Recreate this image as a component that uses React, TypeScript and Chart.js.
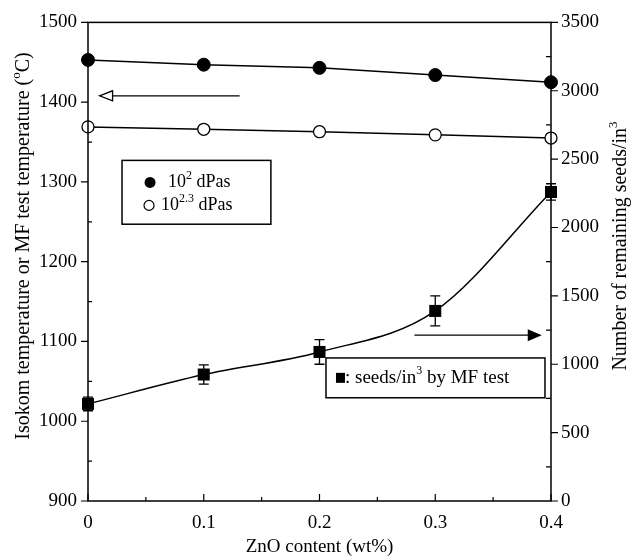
import React, { useEffect, useRef } from "react";
import { Chart, registerables } from "chart.js";

Chart.register(...registerables);

// ---- data ----
const znoContent = [0, 0.1, 0.2, 0.3, 0.4];
const isokom102 = [1453, 1447, 1443, 1434, 1425];
const isokom1023 = [1369, 1366, 1363, 1359, 1355];
const seedsPerIn3 = [710, 925, 1090, 1390, 2260];
const seedsError = [50, 70, 90, 110, 60];

const xTickValues = [0, 0.1, 0.2, 0.3, 0.4];
const xTickLabels = ["0", "0.1", "0.2", "0.3", "0.4"];
const xMinorValues = [0.05, 0.15, 0.25, 0.35];
const leftTickValues = [900, 1000, 1100, 1200, 1300, 1400, 1500];
const leftMinorValues = [950, 1050, 1150, 1250, 1350, 1450];
const rightTickValues = [0, 500, 1000, 1500, 2000, 2500, 3000, 3500];
const rightMinorValues = [250, 750, 1250, 1750, 2250, 2750, 3250];

const FONT = "'Liberation Serif', 'Times New Roman', serif";

type Part = { t: string; sup?: boolean };

function drawRich(ctx: CanvasRenderingContext2D, parts: Part[], x: number, y: number, size: number, align: "left" | "center") {
  let total = 0;
  const widths: number[] = [];
  for (const p of parts) {
    ctx.font = `${p.sup ? Math.round(size * 0.65) : size}px ${FONT}`;
    const w = ctx.measureText(p.t).width;
    widths.push(w);
    total += w;
  }
  let cx = align === "center" ? x - total / 2 : x;
  ctx.textBaseline = "middle";
  ctx.textAlign = "left";
  parts.forEach((p, i) => {
    ctx.font = `${p.sup ? Math.round(size * 0.65) : size}px ${FONT}`;
    ctx.fillText(p.t, cx, p.sup ? y - size * 0.38 : y);
    cx += widths[i];
  });
}

const overlay = {
  id: "overlay",
  beforeDatasetsDraw(chart: any) {
    const ctx = chart.ctx as CanvasRenderingContext2D;
    const xs = chart.scales.x;
    const ys = chart.scales.y2;
    ctx.save();
    ctx.strokeStyle = "#000";
    ctx.lineWidth = 1.3;
    znoContent.forEach((z, i) => {
      const px = xs.getPixelForValue(z);
      const top = ys.getPixelForValue(seedsPerIn3[i] + seedsError[i]);
      const bot = ys.getPixelForValue(seedsPerIn3[i] - seedsError[i]);
      ctx.beginPath();
      ctx.moveTo(px, top);
      ctx.lineTo(px, bot);
      ctx.moveTo(px - 5, top);
      ctx.lineTo(px + 5, top);
      ctx.moveTo(px - 5, bot);
      ctx.lineTo(px + 5, bot);
      ctx.stroke();
    });
    ctx.restore();
  },
  afterDatasetsDraw(chart: any) {
    const ctx = chart.ctx as CanvasRenderingContext2D;
    const { left, right, top, bottom } = chart.chartArea;
    const xs = chart.scales.x;
    const yl = chart.scales.y;
    const yr = chart.scales.y2;
    ctx.save();
    ctx.strokeStyle = "#000";
    ctx.fillStyle = "#000";
    ctx.lineWidth = 1.5;
    // frame
    ctx.strokeRect(left, top, right - left, bottom - top);
    ctx.lineWidth = 1.2;
    ctx.beginPath();
    // bottom ticks (inward)
    xTickValues.forEach((v) => {
      const p = xs.getPixelForValue(v);
      ctx.moveTo(p, bottom);
      ctx.lineTo(p, bottom - 7);
    });
    xMinorValues.forEach((v) => {
      const p = xs.getPixelForValue(v);
      ctx.moveTo(p, bottom);
      ctx.lineTo(p, bottom - 4);
    });
    // left ticks: major outward, minor inward
    leftTickValues.forEach((v) => {
      const p = yl.getPixelForValue(v);
      ctx.moveTo(left - 7, p);
      ctx.lineTo(left, p);
    });
    leftMinorValues.forEach((v) => {
      const p = yl.getPixelForValue(v);
      ctx.moveTo(left, p);
      ctx.lineTo(left + 4, p);
    });
    // right ticks: major outward, minor inward
    rightTickValues.forEach((v) => {
      const p = yr.getPixelForValue(v);
      ctx.moveTo(right, p);
      ctx.lineTo(right + 7, p);
    });
    rightMinorValues.forEach((v) => {
      const p = yr.getPixelForValue(v);
      ctx.moveTo(right, p);
      ctx.lineTo(right - 5, p);
    });
    ctx.stroke();

    // left arrow (open head), pointing to left axis
    ctx.lineWidth = 1.3;
    const la = yl.getPixelForValue(1408);
    const laFrom = xs.getPixelForValue(0.131);
    const laTip = xs.getPixelForValue(0.01);
    ctx.beginPath();
    ctx.moveTo(laFrom, la);
    ctx.lineTo(laTip + 13, la);
    ctx.stroke();
    ctx.beginPath();
    ctx.moveTo(laTip, la);
    ctx.lineTo(laTip + 13, la - 5);
    ctx.lineTo(laTip + 13, la + 5);
    ctx.closePath();
    ctx.stroke();

    // right arrow (filled head), pointing to right axis
    const ra = yr.getPixelForValue(1213);
    const raFrom = xs.getPixelForValue(0.282);
    const raTip = xs.getPixelForValue(0.392);
    ctx.beginPath();
    ctx.moveTo(raFrom, ra);
    ctx.lineTo(raTip - 13, ra);
    ctx.stroke();
    ctx.beginPath();
    ctx.moveTo(raTip, ra);
    ctx.lineTo(raTip - 14, ra - 6);
    ctx.lineTo(raTip - 14, ra + 6);
    ctx.closePath();
    ctx.fill();

    // legend box 1
    const b1l = xs.getPixelForValue(0.0294);
    const b1r = xs.getPixelForValue(0.158);
    const b1t = yl.getPixelForValue(1327);
    const b1b = yl.getPixelForValue(1247);
    ctx.lineWidth = 1.5;
    ctx.strokeRect(b1l, b1t, b1r - b1l, b1b - b1t);
    const r1 = b1t + 22;
    const r2 = b1t + 45;
    ctx.beginPath();
    ctx.arc(b1l + 28, r1, 5.5, 0, Math.PI * 2);
    ctx.fill();
    ctx.beginPath();
    ctx.lineWidth = 1.2;
    ctx.arc(b1l + 27, r2, 5, 0, Math.PI * 2);
    ctx.stroke();
    drawRich(ctx, [{ t: "10" }, { t: "2", sup: true }, { t: " dPas" }], b1l + 46, r1, 18, "left");
    drawRich(ctx, [{ t: "10" }, { t: "2.3", sup: true }, { t: " dPas" }], b1l + 39, r2, 18, "left");

    // legend box 2
    const b2l = xs.getPixelForValue(0.2056);
    const b2r = xs.getPixelForValue(0.3948);
    const b2t = yr.getPixelForValue(1046);
    const b2b = yr.getPixelForValue(755);
    ctx.lineWidth = 1.5;
    ctx.strokeRect(b2l, b2t, b2r - b2l, b2b - b2t);
    const r3 = (b2t + b2b) / 2;
    ctx.fillRect(b2l + 10, r3 - 5, 9, 10);
    drawRich(ctx, [{ t: ": seeds/in" }, { t: "3", sup: true }, { t: " by MF test" }], b2l + 19, r3, 19, "left");
    ctx.restore();
  },
  afterDraw(chart: any) {
    const ctx = chart.ctx as CanvasRenderingContext2D;
    const { left, right, bottom } = chart.chartArea;
    ctx.save();
    ctx.fillStyle = "#000";
    // x title
    drawRich(ctx, [{ t: "ZnO content (wt%)" }], (left + right) / 2, bottom + 46, 19, "center");
    // left title
    ctx.save();
    ctx.translate(24, 246);
    ctx.rotate(-Math.PI / 2);
    drawRich(ctx, [{ t: "Isokom temperature or MF test temperature (" }, { t: "o", sup: true }, { t: "C)" }], 0, 0, 20, "center");
    ctx.restore();
    // right title
    ctx.save();
    ctx.translate(621, 246);
    ctx.rotate(-Math.PI / 2);
    drawRich(ctx, [{ t: "Number of remaining seeds/in" }, { t: "3", sup: true }], 0, 0, 20, "center");
    ctx.restore();
    ctx.restore();
  },
};

export default function App() {
  const canvasRef = useRef<HTMLCanvasElement | null>(null);

  useEffect(() => {
    document.body.style.margin = "0";
    const canvas = canvasRef.current;
    if (!canvas) return;
    const pts = (ys: number[]) => znoContent.map((x, i) => ({ x, y: ys[i] }));
    const tickFont = { family: FONT, size: 19 };
    const chart = new Chart(canvas, {
      type: "line",
      data: {
        datasets: [
          {
            label: "10^2 dPas",
            data: pts(isokom102),
            yAxisID: "y",
            borderColor: "#000",
            backgroundColor: "#000",
            borderWidth: 1.5,
            pointStyle: "circle",
            pointRadius: 6.5,
            pointBorderWidth: 1,
            pointBackgroundColor: "#000",
            tension: 0,
            clip: false,
          },
          {
            label: "10^2.3 dPas",
            data: pts(isokom1023),
            yAxisID: "y",
            borderColor: "#000",
            backgroundColor: "#fff",
            borderWidth: 1.5,
            pointStyle: "circle",
            pointRadius: 6,
            pointBorderWidth: 1.3,
            pointBackgroundColor: "#fff",
            tension: 0,
            clip: false,
          },
          {
            label: "seeds/in3 by MF test",
            data: pts(seedsPerIn3),
            yAxisID: "y2",
            borderColor: "#000",
            backgroundColor: "#000",
            borderWidth: 1.5,
            pointStyle: "rect",
            pointRadius: 8.5,
            pointBorderWidth: 0,
            pointBackgroundColor: "#000",
            cubicInterpolationMode: "monotone",
            clip: false,
          },
        ] as any,
      },
      options: {
        responsive: false,
        animation: false,
        layout: { padding: { top: 19, left: 0, right: 0, bottom: 0 } },
        plugins: { legend: { display: false }, tooltip: { enabled: false } },
        scales: {
          x: {
            type: "linear",
            min: 0,
            max: 0.4,
            grid: { display: false, drawTicks: false },
            border: { display: false },
            afterBuildTicks: (s: any) => {
              s.ticks = xTickValues.map((v) => ({ value: v }));
            },
            afterFit: (s: any) => {
              s.height = 56;
            },
            ticks: {
              color: "#000",
              font: tickFont,
              padding: 11,
              maxRotation: 0,
              autoSkip: false,
              callback: (_v: any, i: number) => xTickLabels[i],
            },
          },
          y: {
            type: "linear",
            position: "left",
            min: 900,
            max: 1500,
            grid: { display: false, drawTicks: false },
            border: { display: false },
            afterBuildTicks: (s: any) => {
              s.ticks = leftTickValues.map((v) => ({ value: v }));
            },
            afterFit: (s: any) => {
              s.width = 88;
            },
            ticks: { color: "#000", font: tickFont, padding: 11, callback: (v: any) => String(v) },
          },
          y2: {
            type: "linear",
            position: "right",
            min: 0,
            max: 3500,
            grid: { display: false, drawTicks: false },
            border: { display: false },
            afterBuildTicks: (s: any) => {
              s.ticks = rightTickValues.map((v) => ({ value: v }));
            },
            afterFit: (s: any) => {
              s.width = 87;
            },
            ticks: { color: "#000", font: tickFont, padding: 10, callback: (v: any) => String(v) },
          },
        },
      } as any,
      plugins: [overlay],
    });
    return () => chart.destroy();
  }, []);

  return <canvas ref={canvasRef} width={638} height={557} style={{ display: "block" }} />;
}
